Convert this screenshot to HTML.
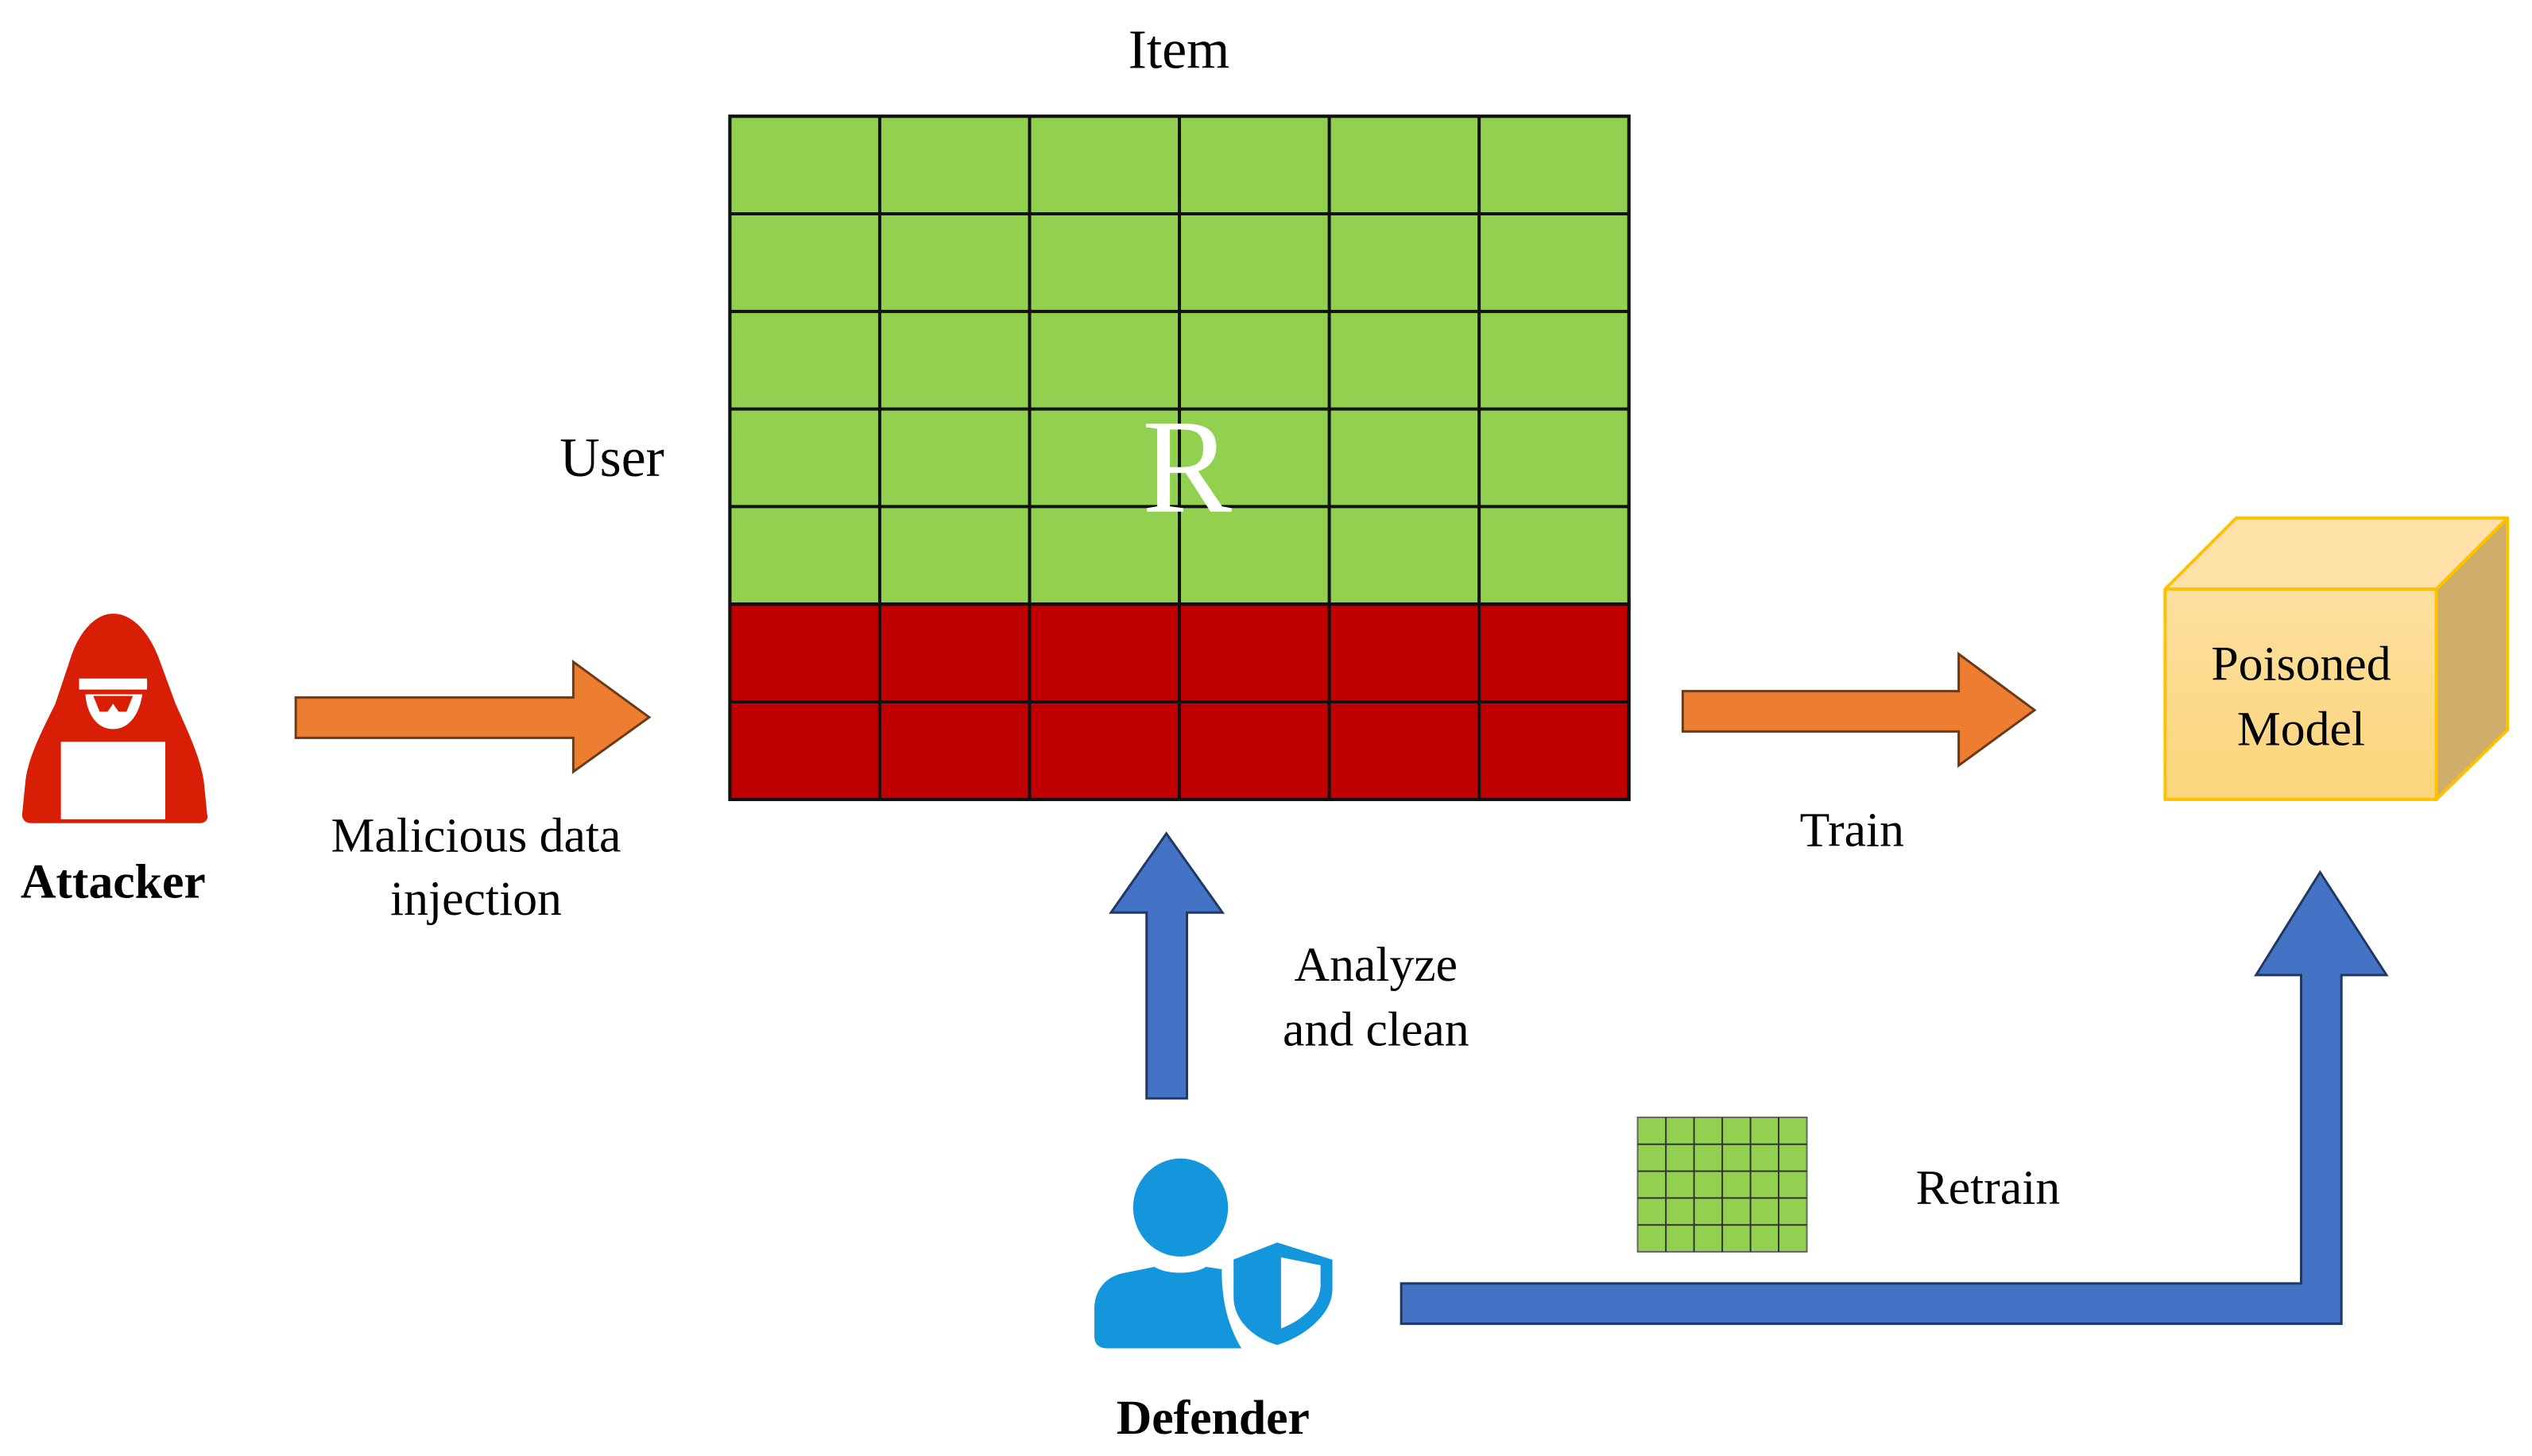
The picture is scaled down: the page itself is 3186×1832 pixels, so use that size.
<!DOCTYPE html>
<html><head><meta charset="utf-8"><style>
html,body{margin:0;padding:0;background:#fff;}
svg{display:block;}
text{font-family:"Liberation Serif",serif;fill:#000;}
</style></head><body>
<svg width="3186" height="1832" viewBox="0 0 3186 1832" xmlns="http://www.w3.org/2000/svg">
<defs>
<linearGradient id="cf" x1="0" y1="0" x2="0" y2="1"><stop offset="0" stop-color="#fde0a0"/><stop offset="1" stop-color="#fcd57a"/></linearGradient>
</defs>
<g transform="scale(0.995)">
<g stroke="#111" stroke-width="4">
<rect x="923" y="147" width="1137" height="617" fill="#92d050"/>
<rect x="923" y="764" width="1137" height="247" fill="#c00000"/>
<line x1="1112.5" y1="147" x2="1112.5" y2="1011"/>
<line x1="1302" y1="147" x2="1302" y2="1011"/>
<line x1="1491.5" y1="147" x2="1491.5" y2="1011"/>
<line x1="1681" y1="147" x2="1681" y2="1011"/>
<line x1="1870.5" y1="147" x2="1870.5" y2="1011"/>
<line x1="923" y1="270.4" x2="2060" y2="270.4"/>
<line x1="923" y1="393.8" x2="2060" y2="393.8"/>
<line x1="923" y1="517.2" x2="2060" y2="517.2"/>
<line x1="923" y1="640.6" x2="2060" y2="640.6"/>
<line x1="923" y1="764" x2="2060" y2="764"/>
<line x1="923" y1="887.5" x2="2060" y2="887.5"/>
<rect x="923" y="147" width="1137" height="864" fill="none"/>
</g>
<text x="1501" y="647" font-size="170" text-anchor="middle" style="fill:#fff">R</text>
<text x="1491" y="86" font-size="70" text-anchor="middle">Item</text>
<text x="774" y="602" font-size="70" text-anchor="middle">User</text>

<g fill="#d81e05">
<path d="M143 776 C120 776 100 800 90 830 L70 890 C50 930 35 960 32 990 L28 1030 C28 1038 34 1041 40 1041 L252 1041 C258 1041 264 1038 262 1030 L258 990 C254 960 240 930 222 890 L200 830 C188 800 168 776 143 776 Z"/>
</g>
<path d="M100 858 L186 858 L186 872 L100 872 Z" fill="#fff"/>
<path d="M108 878 L180 878 C176 905 162 922 143 922 C124 922 110 905 108 878 Z" fill="#fff"/>
<path d="M118 880 L168 880 L160 900 L150 900 L143 890 L136 900 L126 900 Z" fill="#d81e05"/>
<rect x="77" y="938" width="132" height="98" fill="#fff"/>
<text x="143" y="1135" font-size="62" font-weight="bold" text-anchor="middle">Attacker</text>

<polygon points="374,882 725,882 725,837 821,907 725,976 725,933 374,933" fill="#ed7d31" stroke="#6b3a17" stroke-width="3"/>
<text x="602" y="1077" font-size="62" text-anchor="middle">Malicious data</text>
<text x="602" y="1157" font-size="62" text-anchor="middle">injection</text>

<polygon points="2128,874 2477,874 2477,827 2573,898 2477,968 2477,925 2128,925" fill="#ed7d31" stroke="#6b3a17" stroke-width="3"/>
<text x="2342" y="1070" font-size="62" text-anchor="middle">Train</text>

<g stroke="#ffc000" stroke-width="4" stroke-linejoin="round">
<polygon points="2738,745 2828,655 3171,655 3081,745" fill="#fde3a8"/>
<polygon points="3081,745 3171,655 3171,923 3081,1011" fill="#cfae6c"/>
<rect x="2738" y="745" width="343" height="266" fill="url(#cf)"/>
</g>
<text x="2910" y="860" font-size="62" text-anchor="middle">Poisoned</text>
<text x="2910" y="942" font-size="62" text-anchor="middle">Model</text>

<polygon points="1450,1389 1450,1154 1405,1154 1475,1054 1546,1154 1501,1154 1501,1389" fill="#4472c4" stroke="#1f3864" stroke-width="3"/>
<text x="1740" y="1240" font-size="62" text-anchor="middle">Analyze</text>
<text x="1740" y="1322" font-size="62" text-anchor="middle">and clean</text>

<g fill="#1396dc">
<ellipse cx="1493" cy="1527" rx="60" ry="62"/>
<path d="M1420 1610 L1460 1602 C1475 1612 1510 1612 1525 1602 L1545 1605 C1545 1650 1555 1680 1570 1705 L1400 1705 C1388 1705 1384 1698 1384 1690 L1384 1655 C1384 1630 1400 1614 1420 1610 Z"/>
<path d="M1615 1567 L1556 1590 L1556 1640 C1556 1670 1580 1695 1615 1705 C1650 1695 1689 1665 1689 1630 L1689 1590 Z" stroke="#fff" stroke-width="8"/>
</g>
<path d="M1620 1590 L1620 1680 C1650 1668 1670 1648 1670 1625 L1670 1600 Z" fill="#fff"/>
<text x="1534" y="1813" font-size="62" font-weight="bold" text-anchor="middle">Defender</text>

<g stroke="#333" stroke-width="2">
<rect x="2071" y="1413" width="214" height="170" fill="#92d050" stroke="#666"/>
<line x1="2106.7" y1="1413" x2="2106.7" y2="1583"/>
<line x1="2142.3" y1="1413" x2="2142.3" y2="1583"/>
<line x1="2178" y1="1413" x2="2178" y2="1583"/>
<line x1="2213.7" y1="1413" x2="2213.7" y2="1583"/>
<line x1="2249.3" y1="1413" x2="2249.3" y2="1583"/>
<line x1="2071" y1="1447" x2="2285" y2="1447"/>
<line x1="2071" y1="1481" x2="2285" y2="1481"/>
<line x1="2071" y1="1515" x2="2285" y2="1515"/>
<line x1="2071" y1="1549" x2="2285" y2="1549"/>
</g>
<text x="2514" y="1522" font-size="62" text-anchor="middle">Retrain</text>

<polygon points="1772,1623 2910,1623 2910,1233 2853,1233 2934,1103 3018,1233 2961,1233 2961,1674 1772,1674" fill="#4472c4" stroke="#1f3864" stroke-width="3"/>
</g>
</svg>
</body></html>
